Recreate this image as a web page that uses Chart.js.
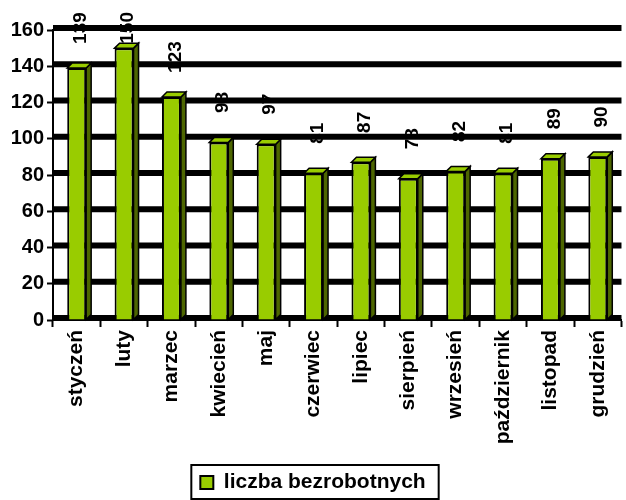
<!DOCTYPE html>
<html><head><meta charset="utf-8">
<script src="https://cdn.jsdelivr.net/npm/chart.js@4/dist/chart.umd.min.js"></script>
<style>html,body{margin:0;padding:0;background:#fff;overflow:hidden}</style>
</head><body>
<canvas id="c" width="626" height="500"></canvas>
<script>
const categories = ['styczeń','luty','marzec','kwiecień','maj','czerwiec','lipiec','sierpień','wrzesień','październik','listopad','grudzień'];
const unemployed = [139,150,123,98,97,81,87,78,82,81,89,90];
const seriesName = 'liczba bezrobotnych';
const yMin = 0, yMax = 160, yStep = 20;

const FONT = '"Liberation Sans", Arial, sans-serif';
const FRONT = '#99CC00', SIDE = '#4D6600', TOPC = '#99CC00';
const DX = 5, DY = 5, GRID_SHIFT = -2;

const valueLabels = {
  id: 'valueLabels',
  beforeDraw(chart) {
    const ctx = chart.ctx, meta = chart.getDatasetMeta(0);
    ctx.save();
    ctx.font = 'bold 19px ' + FONT;
    ctx.fillStyle = '#000';
    ctx.textAlign = 'center';
    ctx.textBaseline = 'middle';
    meta.data.forEach((bar, i) => {
      const txt = String(chart.data.datasets[0].data[i]);
      const w = ctx.measureText(txt).width;
      const cy = Math.max(bar.y - 40, 12 + w / 2);
      ctx.save();
      ctx.translate(bar.x + 3, cy);
      ctx.rotate(-Math.PI / 2);
      ctx.fillText(txt, 0, 1);
      ctx.restore();
    });
    ctx.restore();
  }
};

const wallGrid = {
  id: 'wallGrid',
  beforeDatasetsDraw(chart) {
    const {ctx, chartArea, scales: {y}} = chart;
    ctx.save();
    ctx.strokeStyle = '#000';
    ctx.lineWidth = 6;
    y.ticks.forEach(t => {
      const py = y.getPixelForValue(t.value) + GRID_SHIFT;
      ctx.beginPath();
      ctx.moveTo(chartArea.left, py);
      ctx.lineTo(chartArea.right, py);
      ctx.stroke();
    });
    ctx.restore();
  }
};

const depth = {
  id: 'depth',
  afterDatasetsDraw(chart) {
    const ctx = chart.ctx, meta = chart.getDatasetMeta(0);
    ctx.save();
    ctx.lineWidth = 1.5;
    ctx.strokeStyle = '#000';
    ctx.lineJoin = 'miter';
    meta.data.forEach(bar => {
      const l = bar.x - bar.width / 2, r = bar.x + bar.width / 2, t = bar.y, b = bar.base;
      ctx.beginPath();
      ctx.moveTo(r, t); ctx.lineTo(r + DX, t - DY); ctx.lineTo(r + DX, b - DY); ctx.lineTo(r, b); ctx.closePath();
      ctx.fillStyle = SIDE; ctx.fill(); ctx.stroke();
      ctx.beginPath();
      ctx.moveTo(l, t); ctx.lineTo(l + DX, t - DY); ctx.lineTo(r + DX, t - DY); ctx.lineTo(r, t); ctx.closePath();
      ctx.fillStyle = TOPC; ctx.fill(); ctx.stroke();
    });
    ctx.restore();
  }
};

const legendShift = {
  id: 'legendShift',
  afterLayout(chart) {
    const lg = chart.legend;
    if (lg) { lg.top += 3; lg.bottom += 3; }
  }
};

const legendFrame = {
  id: 'legendFrame',
  afterDraw(chart) {
    const lg = chart.legend;
    if (!lg || !lg.legendHitBoxes || !lg.legendHitBoxes.length) return;
    const hb = lg.legendHitBoxes[0];
    const ctx = chart.ctx;
    ctx.save();
    ctx.strokeStyle = '#000';
    ctx.lineWidth = 2;
    ctx.strokeRect(hb.left - 9, hb.top - 7, hb.width + 22, hb.height + 13);
    ctx.restore();
  }
};

new Chart(document.getElementById('c'), {
  type: 'bar',
  data: {
    labels: categories,
    datasets: [{
      label: seriesName,
      data: unemployed,
      backgroundColor: FRONT,
      borderColor: '#000',
      borderWidth: 2,
      barPercentage: 0.4,
      categoryPercentage: 1.0
    }]
  },
  options: {
    responsive: false,
    animation: false,
    layout: { padding: { top: 30, left: 0, right: 0, bottom: 0 } },
    plugins: {
      tooltip: { enabled: false },
      legend: {
        position: 'bottom',
        labels: {
          color: '#000',
          font: { family: FONT, size: 21, weight: 'bold' },
          boxWidth: 13, boxHeight: 13, padding: 6
        }
      }
    },
    scales: {
      x: {
        grid: { display: true, drawOnChartArea: false, drawTicks: true, tickLength: 7, tickWidth: 2, tickColor: '#000', offset: true },
        border: { display: true, color: '#000', width: 2 },
        ticks: { color: '#000', font: { family: FONT, size: 21, weight: 'bold' }, minRotation: 90, maxRotation: 90, autoSkip: false, padding: 3 },
        afterFit(s) { s.height = 143; }
      },
      y: {
        min: yMin, max: yMax,
        ticks: { stepSize: yStep, color: '#000', font: { family: FONT, size: 20, weight: 'bold' }, padding: 3 },
        grid: { drawOnChartArea: false, drawTicks: true, tickLength: 6, tickWidth: 2, tickColor: '#000' },
        border: { display: true, color: '#000', width: 2 },
        afterFit(s) { s.width = 53; }
      }
    }
  },
  plugins: [valueLabels, wallGrid, depth, legendShift, legendFrame]
});
</script>
</body></html>
